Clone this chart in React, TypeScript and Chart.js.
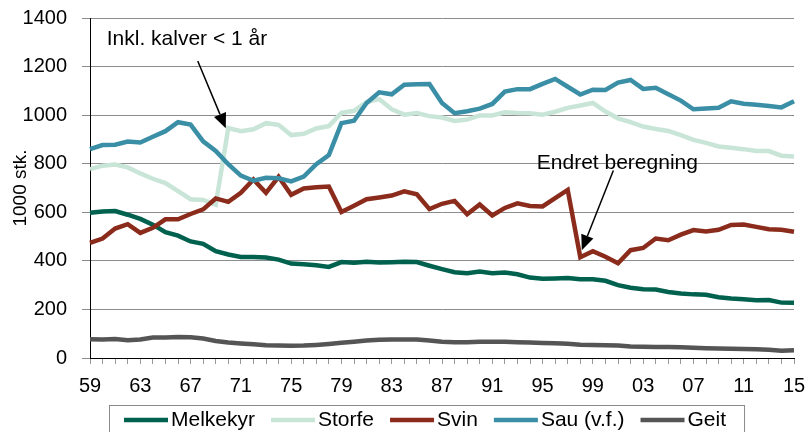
import React, { useEffect, useRef } from 'react';
import { Chart, registerables } from 'chart.js';

Chart.register(...registerables);

// ---- data ----
const years = [
  1959, 1960, 1961, 1962, 1963, 1964, 1965, 1966, 1967, 1968,
  1969, 1970, 1971, 1972, 1973, 1974, 1975, 1976, 1977, 1978,
  1979, 1980, 1981, 1982, 1983, 1984, 1985, 1986, 1987, 1988,
  1989, 1990, 1991, 1992, 1993, 1994, 1995, 1996, 1997, 1998,
  1999, 2000, 2001, 2002, 2003, 2004, 2005, 2006, 2007, 2008,
  2009, 2010, 2011, 2012, 2013, 2014, 2015,
];

const melkekyr = [
  598, 603, 605, 590, 573, 549, 518, 504, 480, 470,
  440, 426, 416, 416, 414, 405, 389, 386, 382, 375,
  395, 392, 396, 393, 394, 396, 395, 380, 366, 353,
  349, 356, 349, 352, 345, 331, 326, 327, 329, 324,
  324, 318, 300, 289, 283, 282, 272, 266, 262, 260,
  250, 245, 242, 238, 239, 228, 227,
];

const storfe = [
  778, 792, 797, 785, 760, 738, 720, 687, 654, 651,
  631, 947, 934, 942, 967, 960, 918, 923, 945, 955,
  1009, 1018, 1054, 1066, 1024, 1002, 1009, 996, 990, 976,
  982, 999, 999, 1012, 1009, 1008, 1002, 1014, 1030, 1040,
  1050, 1015, 987, 971, 953, 943, 935, 918, 898, 886,
  871, 866, 860, 852, 852, 833, 830,
];

const svin = [
  474, 492, 533, 551, 515, 536, 571, 571, 593, 612,
  657, 643, 680, 735, 680, 746, 672, 698, 703, 706,
  601, 627, 654, 661, 669, 686, 674, 613, 635, 647,
  592, 632, 587, 618, 637, 626, 624, 658, 692, 415,
  440, 417, 390, 444, 453, 492, 485, 508, 527, 521,
  528, 548, 550, 540, 530, 528, 520,
];

const sau = [
  860, 877, 878, 891, 887, 911, 934, 971, 961, 892,
  853, 798, 751, 730, 742, 740, 727, 747, 798, 836,
  967, 977, 1050, 1094, 1086, 1125, 1127, 1128, 1050, 1008,
  1016, 1027, 1046, 1097, 1107, 1107, 1129, 1149, 1117, 1085,
  1105, 1104, 1134, 1145, 1108, 1113, 1086, 1060, 1024, 1027,
  1030, 1057, 1047, 1043, 1038, 1032, 1057,
];

const geit = [
  77, 76, 78, 73, 76, 84, 84, 86, 85, 80,
  70, 64, 60, 57, 53, 51, 50, 51, 54, 58,
  63, 67, 72, 75, 76, 76, 76, 72, 67, 65,
  65, 67, 67, 67, 65, 64, 62, 61, 59, 55,
  54, 53, 51, 47, 46, 45, 45, 44, 42, 40,
  39, 38, 37, 36, 34, 30, 32,
];

const seriesNames = ['Melkekyr', 'Storfe', 'Svin', 'Sau (v.f.)', 'Geit'];
const seriesValues = [melkekyr, storfe, svin, sau, geit];
const seriesColors = ['#00614f', '#c8e5d8', '#8b2b1c', '#3a8ea6', '#555555'];

const yMin = 0;
const yMax = 1400;
const yStep = 200;
const xLabelEvery = 4;
const yTitle = '1000 stk.';

// annotation texts with anchor points in data space (year, value)
const notes = [
  { text: 'Inkl. kalver < 1 år', tx: 1960.33, ty: 1287, fx: 1967.57, fy: 1223, ax: 1969.8, ay: 946 },
  { text: 'Endret beregning', tx: 1994.54, ty: 779, fx: 2000.63, fy: 772, ax: 1998.12, ay: 444 },
];

const FONT = '"Liberation Sans", Arial, sans-serif';

const notesPlugin = {
  id: 'notes',
  afterDatasetsDraw(chart: any) {
    const { ctx } = chart;
    const xs = chart.scales.x;
    const ys = chart.scales.y;
    const px = (yr: number) => xs.getPixelForValue(yr - years[0]);
    ctx.save();
    for (const n of notes) {
      ctx.font = `21px ${FONT}`;
      ctx.fillStyle = '#000';
      ctx.textAlign = 'left';
      ctx.textBaseline = 'alphabetic';
      ctx.fillText(n.text, px(n.tx), ys.getPixelForValue(n.ty));
      const x1 = px(n.fx), y1 = ys.getPixelForValue(n.fy);
      const x2 = px(n.ax), y2 = ys.getPixelForValue(n.ay);
      const ang = Math.atan2(y2 - y1, x2 - x1);
      const head = 15, hw = 6.5;
      const bx = x2 - head * Math.cos(ang);
      const by = y2 - head * Math.sin(ang);
      ctx.strokeStyle = '#000';
      ctx.lineWidth = 1.5;
      ctx.beginPath();
      ctx.moveTo(x1, y1);
      ctx.lineTo(bx, by);
      ctx.stroke();
      ctx.beginPath();
      ctx.moveTo(x2, y2);
      ctx.lineTo(bx + hw * Math.sin(ang), by - hw * Math.cos(ang));
      ctx.lineTo(bx - hw * Math.sin(ang), by + hw * Math.cos(ang));
      ctx.closePath();
      ctx.fill();
    }
    ctx.restore();
  },
};

const legendPlugin = {
  id: 'boxLegend',
  afterDraw(chart: any) {
    const { ctx, chartArea } = chart;
    ctx.save();
    ctx.font = `21px ${FONT}`;
    const left = chartArea.left + 19;
    const top = chartArea.bottom + 47;
    const cy = chartArea.bottom + 62;
    let x = left + 15;
    seriesNames.forEach((name, i) => {
      ctx.strokeStyle = seriesColors[i];
      ctx.lineWidth = 4.5;
      ctx.beginPath();
      ctx.moveTo(x, cy);
      ctx.lineTo(x + 44, cy);
      ctx.stroke();
      ctx.fillStyle = '#000';
      ctx.textAlign = 'left';
      ctx.textBaseline = 'middle';
      ctx.fillText(name, x + 47, cy);
      x += 47 + ctx.measureText(name).width + 16;
    });
    const right = x + 2;
    ctx.strokeStyle = '#8a8a8a';
    ctx.lineWidth = 1;
    ctx.strokeRect(left + 0.5, top + 0.5, right - left, 60);
    ctx.restore();
  },
};

export default function App() {
  const canvasRef = useRef<HTMLCanvasElement | null>(null);

  useEffect(() => {
    document.body.style.margin = '0';
    if (!canvasRef.current) return;
    const chart = new Chart(canvasRef.current, {
      type: 'line',
      data: {
        labels: years,
        datasets: seriesNames.map((name, i) => ({
          label: name,
          data: seriesValues[i],
          borderColor: seriesColors[i],
          backgroundColor: seriesColors[i],
          borderWidth: 4.5,
          pointRadius: 0,
          tension: 0,
          fill: false,
          order: seriesNames.length - i,
        })),
      },
      options: {
        responsive: true,
        maintainAspectRatio: false,
        animation: false,
        layout: { padding: { top: 18, right: 13, left: 0, bottom: 34 } },
        plugins: {
          legend: { display: false },
          tooltip: { enabled: false },
        },
        scales: {
          x: {
            type: 'category',
            offset: false,
            grid: {
              display: true,
              drawOnChartArea: false,
              drawTicks: true,
              tickLength: 6,
              color: '#9a9a9a',
            },
            border: { display: true, color: '#000', width: 1 },
            ticks: {
              autoSkip: false,
              maxRotation: 0,
              minRotation: 0,
              padding: 10,
              color: '#000',
              font: { family: FONT, size: 20 },
              callback: (_v: any, idx: number) =>
                idx % xLabelEvery === 0 ? String(years[idx] % 100).padStart(2, '0') : '',
            },
            afterFit: (s: any) => {
              s.height = 40;
              s.paddingLeft = 0;
              s.paddingRight = 0;
            },
          },
          y: {
            min: yMin,
            max: yMax,
            grid: {
              color: '#8c8c8c',
              lineWidth: 1,
              tickLength: 8,
            },
            border: { display: true, color: '#000', width: 1 },
            ticks: {
              stepSize: yStep,
              padding: 15,
              color: '#000',
              font: { family: FONT, size: 20 },
              callback: (v: any) => String(v),
            },
            title: {
              display: true,
              text: yTitle,
              color: '#000',
              font: { family: FONT, size: 19 },
              padding: { top: 9, bottom: 0 },
            },
            afterFit: (s: any) => {
              s.width = 90;
              s.paddingTop = 0;
              s.paddingBottom = 0;
            },
          },
        },
      },
      plugins: [notesPlugin, legendPlugin],
    });
    return () => chart.destroy();
  }, []);

  return (
    <div style={{ position: 'relative', width: 807, height: 432 }}>
      <canvas ref={canvasRef} />
    </div>
  );
}
